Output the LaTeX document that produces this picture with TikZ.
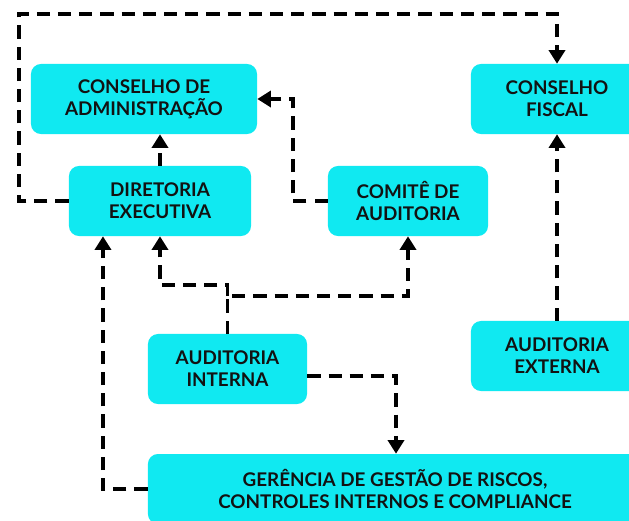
\documentclass[tikz,border=0pt]{standalone}
\usepackage{fontspec}
\setmainfont{Lato}
\usetikzlibrary{arrows.meta,positioning,calc}
\definecolor{boxcyan}{RGB}{16,233,241}
\begin{document}
\begin{tikzpicture}[
		x=0.025cm,y=-0.025cm,
		>={Triangle[length=0.34cm,width=0.4cm]},
		unit/.style={
			fill=boxcyan,
			rounded corners=0.25cm,
			minimum height=1.75cm,
			align=center,
			inner sep=0pt,
			font=\fontsize{13.4}{15.6}\selectfont\bfseries,
			text=black!93
		},
		link/.style={
			line width=0.0875cm,
			dash pattern=on 0.33cm off 0.2cm
		}
		]
		\useasboundingbox (0,0) rectangle (629,520);
		\clip (0,0) rectangle (629,520);
		% boxes
		\node[unit,minimum width=5.65cm] (ca) at (144,99) {CONSELHO DE\\ADMINISTRAÇÃO};
		\node[unit,minimum width=4.3cm] (cf) at (557,99) {CONSELHO\\FISCAL};
		\node[unit,minimum width=4.55cm] (de) at (160,201) {DIRETORIA\\EXECUTIVA};
		\node[unit,minimum width=4cm] (co) at (408,201) {COMITÊ DE\\AUDITORIA};
		\node[unit,minimum width=3.975cm] (ai) at (227.5,369) {AUDITORIA\\INTERNA};
		\node[unit,minimum width=4.3cm] (ae) at (557,356) {AUDITORIA\\EXTERNA};
		\node[unit,minimum width=12.35cm] (ge) at (395,489) {GERÊNCIA DE GESTÃO DE RISCOS,\\CONTROLES INTERNOS E COMPLIANCE};
		% connectors
		\draw[link,->] (de.west) -| (19,14) -| (cf.north);
		\draw[link,->] (de.north) -- (de.north |- ca.south);
		\draw[link,->] (co.west) -| (293,99) -- (ca.east);
		\coordinate (split) at (227.5,296);
		\draw[link,->] (ai.north) -- (split) -| (co.south);
		\draw[link,->] (split) -- (227.5,285) -| (de.south);
		\draw[link,->] ([yshift=-0.175cm]ai.east) -| ([xshift=0.025cm]ge.north);
		\draw[link,->] (ge.west) -| ([xshift=-1.425cm]de.south);
		\draw[link,->] (ae.north) -- (cf.south);
		\end{tikzpicture}
\end{document}
